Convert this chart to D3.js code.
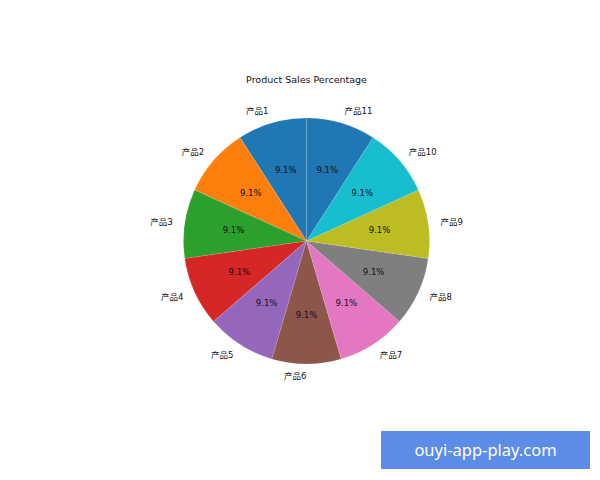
<!DOCTYPE html>
<html><head><meta charset="utf-8">
<script src="https://cdn.jsdelivr.net/npm/d3@7"></script>
<style>body{margin:0;background:#fff}svg{display:block}</style>
</head><body>
<svg id="c" width="600" height="480"></svg>
<script>
const categories = ["产品1","产品2","产品3","产品4","产品5","产品6","产品7","产品8","产品9","产品10","产品11"];
const values = [1,1,1,1,1,1,1,1,1,1,1];
const colors = ["#1f77b4","#ff7f0e","#2ca02c","#d62728","#9467bd","#8c564b","#e377c2","#7f7f7f","#bcbd22","#17becf","#1f77b4"];
const title = "Product Sales Percentage";
const watermark = "ouyi-app-play.com";

const svg = d3.select("#c");
svg.append("rect").attr("width",600).attr("height",480).attr("fill","#fff");
const cx = 306.5, cy = 241, R = 123;
const font = "'DejaVu Sans', sans-serif";
const cjk = "'DejaVu Sans','Noto Sans CJK SC', sans-serif";

const total = d3.sum(values);
const pie = d3.pie().sort(null).startAngle(0).endAngle(-2*Math.PI);
const arcs = pie(values);
const arc = d3.arc().innerRadius(0).outerRadius(R);
const g = svg.append("g").attr("transform",`translate(${cx},${cy})`);

g.selectAll("path").data(arcs).join("path")
  .attr("d", arc).attr("fill", (d,i)=>colors[i])
  .attr("stroke","#fff").attr("stroke-width",0.3).attr("stroke-opacity",0.4);

const mid = d => (d.startAngle + d.endAngle)/2;
g.selectAll("text.lab").data(arcs).join("text").attr("class","lab")
  .attr("x", d => 1.1*R*Math.sin(mid(d)))
  .attr("y", d => -1.1*R*Math.cos(mid(d)))
  .attr("dy","0.35em")
  .attr("text-anchor", d => Math.sin(mid(d)) < 0 ? "end" : "start")
  .attr("font-family", cjk).attr("font-size", 8.5).attr("fill","#111")
  .text((d,i)=>categories[i]);

g.selectAll("text.pct").data(arcs).join("text").attr("class","pct")
  .attr("x", d => 0.6*R*Math.sin(mid(d)))
  .attr("y", d => -0.6*R*Math.cos(mid(d)))
  .attr("dy","0.35em").attr("text-anchor","middle")
  .attr("font-family", font).attr("font-size", 8.5).attr("fill","#111")
  .text(d => (100*d.value/total).toFixed(1) + "%");

svg.append("text").attr("x", cx).attr("y", 80).attr("dy","0.35em")
  .attr("text-anchor","middle").attr("font-family", font).attr("font-size", 9.5)
  .attr("fill","#111").text(title);

svg.append("rect").attr("x",381).attr("y",431).attr("width",209).attr("height",38).attr("fill","#5b8de8");
svg.append("text").attr("x",485.5).attr("y",450).attr("dy","0.35em").attr("text-anchor","middle")
  .attr("font-family","'Noto Sans', sans-serif").attr("font-size",16.5).attr("fill","#fff").text(watermark);
</script>
</body></html>
